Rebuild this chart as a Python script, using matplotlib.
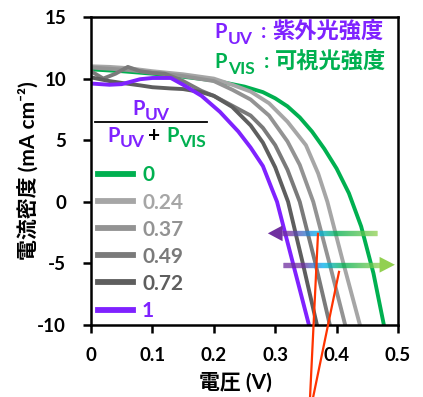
import numpy as np
import matplotlib
matplotlib.use("Agg")
import matplotlib.pyplot as plt
from matplotlib.collections import LineCollection
from matplotlib.colors import LinearSegmentedColormap
from matplotlib.patches import Polygon
from matplotlib.lines import Line2D
from matplotlib.transforms import offset_copy

plt.rcParams['font.family'] = ['Lato', 'Noto Sans CJK JP', 'DejaVu Sans']
plt.rcParams['font.weight'] = 'bold'

# ---------------- data ----------------
ratio_labels = ['0', '0.24', '0.37', '0.49', '0.72', '1']
series_colors = ['#00B050', '#A6A6A6', '#939393', '#7A7A7A', '#5E5E5E', '#7F22FF']

v_0 = [0, 0.05, 0.1, 0.15, 0.2, 0.25, 0.28, 0.3, 0.32, 0.34, 0.36, 0.38, 0.40, 0.42, 0.44, 0.46, 0.477]
j_0 = [10.75, 10.6, 10.4, 10.15, 9.85, 9.35, 8.9, 8.4, 7.75, 6.85, 5.7, 4.3, 2.7, 0.7, -2.0, -5.8, -10]

v_024 = [0, 0.03, 0.06, 0.1, 0.15, 0.2, 0.23, 0.26, 0.29, 0.32, 0.35, 0.37, 0.385, 0.41, 0.438]
j_024 = [11.0, 10.95, 10.85, 10.6, 10.35, 10.0, 9.5, 8.95, 8.0, 6.5, 4.6, 2.3, 0.0, -4.8, -10]

v_037 = [0, 0.03, 0.06, 0.1, 0.15, 0.2, 0.23, 0.26, 0.29, 0.32, 0.34, 0.362, 0.39, 0.414]
j_037 = [10.9, 10.8, 10.7, 10.5, 10.2, 9.8, 9.1, 8.3, 7.0, 4.9, 3.0, 0.0, -5.3, -10]

v_049 = [0, 0.02, 0.04, 0.06, 0.08, 0.1, 0.12, 0.15, 0.18, 0.2, 0.23, 0.26, 0.28, 0.3, 0.32, 0.34, 0.365, 0.389]
j_049 = [10.6, 10.0, 10.4, 10.95, 10.6, 10.45, 10.4, 9.8, 9.0, 8.6, 7.8, 7.0, 6.0, 4.6, 2.6, 0.0, -4.9, -10]

v_072 = [0, 0.03, 0.05, 0.08, 0.1, 0.13, 0.15, 0.18, 0.2, 0.23, 0.26, 0.28, 0.3, 0.321, 0.345, 0.368]
j_072 = [10.1, 9.8, 9.65, 9.45, 9.3, 9.2, 9.15, 8.9, 8.6, 7.7, 6.2, 4.8, 2.8, 0.0, -5.0, -10]

v_1 = [0, 0.03, 0.05, 0.08, 0.1, 0.13, 0.15, 0.18, 0.21, 0.24, 0.26, 0.28, 0.295, 0.303, 0.33, 0.355]
j_1 = [9.6, 9.5, 9.55, 9.95, 10.05, 10.05, 9.5, 8.6, 7.3, 5.7, 4.4, 2.9, 1.0, 0.0, -5.2, -10]

series_v = [v_0, v_024, v_037, v_049, v_072, v_1]
series_j = [j_0, j_024, j_037, j_049, j_072, j_1]

x_ticks = [0, 0.1, 0.2, 0.3, 0.4, 0.5]
x_ticklabels = ['0', '0.1', '0.2', '0.3', '0.4', '0.5']
y_ticks = [-10, -5, 0, 5, 10, 15]
y_ticklabels = ['-10', '-5', '0', '5', '10', '15']

# arrows (annotation): y, tail/head-base/tip in V
arrow_left = dict(y=-2.56, x_end=0.466, x_base=0.311, x_tip=0.288)
arrow_right = dict(y=-5.11, x_end=0.313, x_base=0.471, x_tip=0.495)
# red pointer lines
red_line1 = ([0.3697, 0.3567], [-2.6, -15.9])
red_line2 = ([0.4039, 0.3616], [-5.69, -15.9])

PURPLE_T = '#7F22FF'
GREEN_T = '#00B050'

# ---------------- figure ----------------
fig = plt.figure(figsize=(4.23, 3.97), dpi=100)
ax = fig.add_axes([91/423, 1-325/397, 307/423, 308/397])
renderer = fig.canvas.get_renderer()

lines = []
for v, j, c, lab in zip(series_v, series_j, series_colors, ratio_labels):
    ln, = ax.plot(v, j, color=c, lw=2.8, label=lab, solid_joinstyle='round', zorder=2)
    lines.append(ln)

ax.set_xlim(0, 0.5)
ax.set_ylim(-10, 15)
ax.set_xticks(x_ticks)
ax.set_xticklabels(x_ticklabels)
ax.set_yticks(y_ticks)
ax.set_yticklabels(y_ticklabels)
ax.tick_params(axis='both', direction='out', length=6, width=1.8, labelsize=13.5)
ax.tick_params(axis='y', pad=12)
ax.tick_params(axis='x', pad=10)
for lab in ax.get_xticklabels() + ax.get_yticklabels():
    lab.set_fontweight('bold')
for s in ax.spines.values():
    s.set_linewidth(1.8)

ax.set_xlabel('電圧 (V)', fontsize=15, fontweight='bold')
ax.xaxis.set_label_coords(0.469, -0.155)
ax.set_ylabel('電流密度 (mA cm⁻²)', fontsize=15, fontweight='bold')
ax.yaxis.set_label_coords(-0.166, 0.5)

# gradient arrows
c_pur, c_cyan, c_grn, c_lgrn = '#7030A0', '#00B0F0', '#00B050', '#92D050'


def grad_arrow(y, x_a, x_b, stops, head_base, head_tip, head_color):
    xs = np.linspace(x_a, x_b, 300)
    pts = np.array([xs, np.full_like(xs, y)]).T.reshape(-1, 1, 2)
    segs = np.concatenate([pts[:-1], pts[1:]], axis=1)
    lo, hi = min(x_a, x_b), max(x_a, x_b)
    cm = LinearSegmentedColormap.from_list('g', [((p - lo) / (hi - lo), c) for p, c in stops])
    mids = (xs[:-1] + xs[1:]) / 2
    lc = LineCollection(segs, colors=cm((mids - lo) / (hi - lo)), linewidths=3.8,
                        capstyle='butt', zorder=4)
    ax.add_collection(lc)
    h = 0.64
    ax.add_patch(Polygon([(head_tip, y), (head_base, y + h), (head_base, y - h)],
                         closed=True, facecolor=head_color, edgecolor='none', zorder=4))


grad_arrow(arrow_left['y'], arrow_left['x_base'], arrow_left['x_end'],
           [(0.311, c_pur), (0.324, c_pur), (0.368, c_cyan), (0.40, c_grn), (0.466, c_lgrn)],
           arrow_left['x_base'] + 0.001, arrow_left['x_tip'], c_pur)
grad_arrow(arrow_right['y'], arrow_right['x_end'], arrow_right['x_base'],
           [(0.313, c_pur), (0.345, c_pur), (0.378, c_cyan), (0.41, c_grn), (0.471, c_lgrn)],
           arrow_right['x_base'] - 0.001, arrow_right['x_tip'], c_lgrn)

for xs, ys in (red_line1, red_line2):
    ax.plot(xs, ys, color='#FF3300', lw=1.6, clip_on=False, zorder=5)


def p_sub(x, y, sub, color, ha='left', size=14.5, subsize=12.5, drop=6):
    """Draw bold 'P' with a large lowered subscript; x,y in axes fraction (baseline)."""
    t1 = ax.text(x, y, 'P', transform=ax.transAxes, color=color, fontsize=size,
                 fontweight='bold', ha='left', va='baseline', zorder=6)
    w1 = t1.get_window_extent(renderer).width
    t2 = ax.text(x, y, sub, transform=ax.transAxes, color=color, fontsize=subsize,
                 fontweight='bold', ha='left', va='baseline', zorder=6)
    w2 = t2.get_window_extent(renderer).width
    shift = 0.0
    if ha == 'center':
        shift = -(w1 + w2) / 2
    t1.set_transform(offset_copy(ax.transAxes, fig, x=shift, y=0, units='dots'))
    t2.set_transform(offset_copy(ax.transAxes, fig, x=shift + w1 + 0.5, y=-drop, units='dots'))


# annotation texts top right
p_sub(0.403, 0.932, 'UV', PURPLE_T, drop=6)
ax.text(0.5635, 0.932, ':', transform=ax.transAxes, color=PURPLE_T, fontsize=15,
        fontweight='bold', ha='center', va='baseline', zorder=6)
ax.text(0.953, 0.932, '紫外光強度', transform=ax.transAxes,
        color=PURPLE_T, fontsize=16, fontweight='bold', ha='right', va='baseline', zorder=6)
p_sub(0.403, 0.834, 'VIS', GREEN_T, drop=6)
ax.text(0.5733, 0.834, ':', transform=ax.transAxes, color=GREEN_T, fontsize=15,
        fontweight='bold', ha='center', va='baseline', zorder=6)
ax.text(0.96, 0.834, '可視光強度', transform=ax.transAxes,
        color=GREEN_T, fontsize=16, fontweight='bold', ha='right', va='baseline', zorder=6)

# fraction legend title
p_sub(0.195, 0.682, 'UV', PURPLE_T, ha='center', drop=5)
ax.add_line(Line2D([0.014, 0.378], [0.659, 0.659], transform=ax.transAxes,
                   color='black', lw=1.3))
p_sub(0.052, 0.594, 'UV', PURPLE_T, drop=5)
ax.text(0.205, 0.594, '+', transform=ax.transAxes, color='black',
        fontsize=15, fontweight='bold', ha='center', va='baseline')
p_sub(0.245, 0.594, 'VIS', GREEN_T, drop=5)

leg = ax.legend(handles=lines, loc='upper left', bbox_to_anchor=(0.023, 0.518),
                frameon=False, borderaxespad=0, borderpad=0, handlelength=1.68,
                handletextpad=0.43, labelspacing=0.34, labelcolor='linecolor',
                prop={'size': 15, 'weight': 'bold'})
for h in leg.legend_handles:
    h.set_linewidth(4.2)

fig.savefig('out.png', dpi=100)
